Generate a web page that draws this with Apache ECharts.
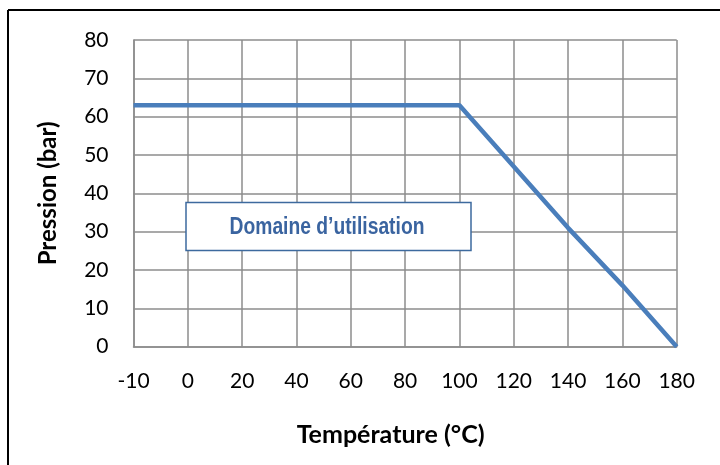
<!DOCTYPE html>
<html>
<head>
<meta charset="utf-8">
<script src="https://cdn.jsdelivr.net/npm/echarts@6/dist/echarts.min.js"></script>
<style>
  html, body { margin: 0; padding: 0; background: #fff; }
  #chart { width: 720px; height: 465px; }
</style>
</head>
<body>
<div id="chart"></div>
<script>
  // températures (axe X) et pression admissible
  var temperatures = ['-10', '0', '20', '40', '60', '80', '100', '120', '140', '160', '180']
  var pression = [63, 63, 63, 63, 63, 63, 63, 47, 31, 16, 0]
  var yTicks = { min: 0, max: 80, interval: 10 }

  var gridColor = '#8c8c8c'
  var chart = echarts.init(document.getElementById('chart'))

  chart.setOption({
    animation: false,
    grid: { left: 133.5, right: 43.3, top: 40, bottom: 118.3 },
    xAxis: {
      type: 'category',
      data: temperatures,
      boundaryGap: false,
      name: 'Température (°C)',
      nameLocation: 'middle',
      nameGap: 76,
      nameTextStyle: { fontFamily: 'Lato', fontWeight: 'bold', fontSize: 25, color: '#000', padding: [0, 29, 0, 0] },
      axisTick: { show: false },
      axisLine: { lineStyle: { color: gridColor, width: 1.5 } },
      axisLabel: { fontFamily: 'Lato', fontSize: 21, color: '#000', margin: 24 },
      splitLine: { show: true, lineStyle: { color: gridColor, width: 1.5 } }
    },
    yAxis: {
      type: 'value',
      min: yTicks.min,
      max: yTicks.max,
      interval: yTicks.interval,
      name: 'Pression (bar)',
      nameLocation: 'middle',
      nameGap: 73,
      nameTextStyle: { fontFamily: 'Lato', fontWeight: 'bold', fontSize: 24, color: '#000' },
      axisTick: { show: false },
      axisLine: { show: true, lineStyle: { color: gridColor, width: 1.5 } },
      axisLabel: { fontFamily: 'Lato', fontSize: 21, color: '#000', margin: 25 },
      splitLine: { lineStyle: { color: gridColor, width: 1.5 } }
    },
    series: [
      {
        type: 'line',
        data: pression,
        showSymbol: false,
        lineStyle: { color: '#4a7ebb', width: 4.5 },
        z: 3
      }
    ],
    graphic: [
      // cadre du graphique (bords haut et gauche visibles)
      { type: 'line', shape: { x1: 8, y1: 10, x2: 720, y2: 10 }, style: { stroke: '#000', lineWidth: 2 } },
      { type: 'line', shape: { x1: 8, y1: 10, x2: 8, y2: 465 }, style: { stroke: '#000', lineWidth: 2 } },
      {
        type: 'rect',
        shape: { x: 186, y: 202.5, width: 285, height: 48 },
        style: { fill: '#fff', stroke: '#3d6a9e', lineWidth: 1.5 },
        z: 10
      },
      {
        // texte condensé façon Arial Narrow
        type: 'text',
        x: 327,
        y: 228,
        scaleX: 0.82,
        style: {
          text: 'Domaine d’utilisation',
          fill: '#3a64a0',
          font: 'bold 23.5px "Liberation Sans", Arial, sans-serif',
          textAlign: 'center',
          textVerticalAlign: 'middle'
        },
        z: 11
      }
    ]
  })
</script>
</body>
</html>
